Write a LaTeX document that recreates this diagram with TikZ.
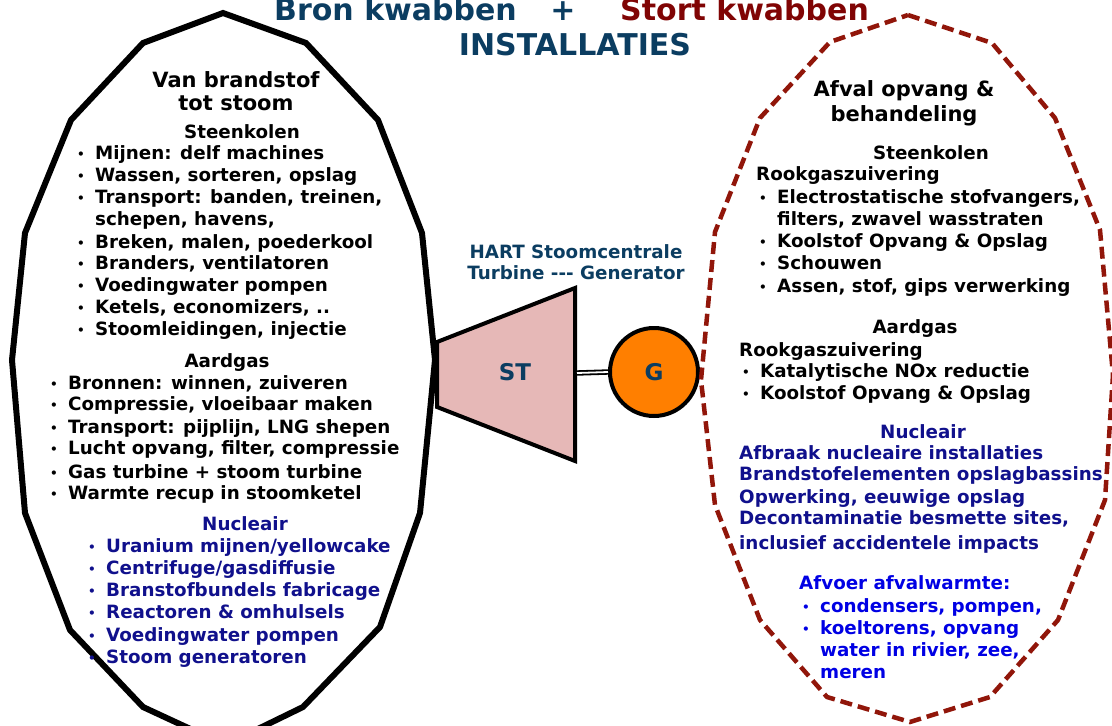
\documentclass[tikz,border=0pt]{standalone}
\usepackage{fontspec}
\setmainfont{DejaVu Sans}

\definecolor{titleblue}{RGB}{11,61,97}
\definecolor{stortred}{RGB}{128,4,4}
\definecolor{lobered}{RGB}{145,22,10}
\definecolor{nucblue}{RGB}{16,16,140}
\definecolor{heatblue}{RGB}{0,0,228}
\definecolor{turbinefill}{RGB}{230,184,183}
\definecolor{genorange}{RGB}{255,127,0}

\begin{document}
\begin{tikzpicture}[
  x=1pt,
  y=-1pt,
  font=\bfseries,
  lobe/.style={draw=black,line width=6pt},
  wastelobe/.style={draw=lobered,line width=4.5pt,dash pattern=on 12pt off 6pt},
  title/.style={font=\fontsize{30}{30}\selectfont\bfseries,anchor=base,inner sep=0pt},
  head/.style={font=\fontsize{21}{23}\selectfont\bfseries,anchor=base,inner sep=0pt},
  sub/.style={font=\fontsize{18.3}{22}\selectfont\bfseries,anchor=base,inner sep=0pt},
  txt/.style={sub,anchor=base west},
  dot/.style={font=\fontsize{12}{12}\selectfont\bfseries,anchor=base west,inner sep=0pt,yshift=0.8pt}
]
\clip (0,0) rectangle (1112,726);

% Title
\node[title,text=titleblue,anchor=base west] (bron) at (274,20) {Bron kwabben};
\node[title,text=titleblue] (plus) at (563,20) {+};
\node[title,text=stortred,anchor=base west] (stort) at (620,20) {Stort kwabben};
\node[title,text=titleblue] (install) at (575,55) {INSTALLATIES};

% Source lobe
\draw[lobe] (223,13) -- (306,43) -- (378,120) -- (422,233) -- (435,360)
  -- (420,513) -- (380,627) -- (303,707) -- (225,745) -- (143,707)
  -- (70,630) -- (25,513) -- (12,360) -- (25,233) -- (71,120)
  -- (143,43) -- cycle;

\node[head] (srchead1) at (236,87) {Van brandstof};
\node[head] (srchead2) at (236,110) {tot stoom};

\node[sub] (srccoal) at (242,138) {Steenkolen};
\foreach \y/\t [count=\i] in {159/{Mijnen: delf machines},
    181/{Wassen, sorteren, opslag},
    203/{Transport: banden, treinen,},
    248/{Breken, malen, poederkool},
    269/{Branders, ventilatoren},
    291/{Voedingwater pompen},
    313/{Ketels, economizers, ..},
    335/{Stoomleidingen, injectie}} {
  \node[dot] (scb\i) at (77,\y) {•};
  \node[txt] (sct\i) at (95,\y) {\t};
}
\node[txt] (sctx) at (95,225) {schepen, havens,};

\node[sub] (srcgas) at (227,367) {Aardgas};
\foreach \y/\t [count=\i] in {389/{Bronnen: winnen, zuiveren},
    410/{Compressie, vloeibaar maken},
    433/{Transport: pijplijn, LNG shepen},
    454/{Lucht opvang, filter, compressie},
    478/{Gas turbine + stoom turbine},
    499/{Warmte recup in stoomketel}} {
  \node[dot] (sgb\i) at (50,\y) {•};
  \node[txt] (sgt\i) at (68,\y) {\t};
}

\node[sub,text=nucblue] (srcnuc) at (245,530) {Nucleair};
\foreach \y/\t [count=\i] in {552/{Uranium mijnen/yellowcake},
    574/{Centrifuge/gasdiffusie},
    596/{Branstofbundels fabricage},
    618/{Reactoren \& omhulsels},
    641/{Voedingwater pompen},
    663/{Stoom generatoren}} {
  \node[dot,text=nucblue] (snb\i) at (88,\y) {•};
  \node[txt,text=nucblue] (snt\i) at (106,\y) {\t};
}

% Turbine and generator
\node[sub,text=titleblue] (hart) at (576,258) {HART Stoomcentrale};
\node[sub,text=titleblue] (turbgen) at (576,279)
  {Turbine \mbox{-}\mbox{-}\mbox{-} Generator};

\draw[line width=4pt,fill=turbinefill,line join=miter]
  (437,342) -- (575,288) -- (575,461) -- (437,407) -- cycle;
\node[font=\fontsize{23}{23}\selectfont\bfseries,text=titleblue] (st) at (515,372) {ST};
\coordinate (stout) at (577,373);

\node[circle,draw=black,line width=4pt,fill=genorange,minimum size=88pt,inner sep=0pt,
  font=\fontsize{23}{23}\selectfont\bfseries,text=titleblue] (gen) at (654,372) {G};
\draw[line width=1.8pt,double=white,double distance=1.8pt] (stout) -- (gen.west);

% Waste lobe
\draw[wastelobe] (908,15) -- (992,43) -- (1055,118) -- (1100,230) -- (1113,375)
  -- (1105,500) -- (1058,620) -- (990,697) -- (910,722) -- (827,697)
  -- (760,620) -- (715,505) -- (701,380) -- (715,232) -- (760,118)
  -- (830,42) -- cycle;

\node[head] (wastehead1) at (904,96) {Afval opvang \&};
\node[head] (wastehead2) at (904,121) {behandeling};

\node[sub] (wcoal) at (931,159) {Steenkolen};
\node[txt] (wcoalrook) at (756,180) {Rookgaszuivering};
\foreach \y/\t [count=\i] in {203/{Electrostatische stofvangers,},
    247/{Koolstof Opvang \& Opslag},
    269/{Schouwen},
    292/{Assen, stof, gips verwerking}} {
  \node[dot] (wcb\i) at (759,\y) {•};
  \node[txt] (wct\i) at (777,\y) {\t};
}
\node[txt] (wctx) at (777,225) {filters, zwavel wasstraten};

\node[sub] (wgas) at (915,333) {Aardgas};
\node[txt] (wgasrook) at (739,356) {Rookgaszuivering};
\foreach \y/\t [count=\i] in {377/{Katalytische NOx reductie},
    399/{Koolstof Opvang \& Opslag}} {
  \node[dot] (wgb\i) at (742,\y) {•};
  \node[txt] (wgt\i) at (760,\y) {\t};
}

\node[sub,text=nucblue] (wnuc) at (923,438) {Nucleair};
\foreach \y/\t [count=\i] in {459/{Afbraak nucleaire installaties},
    480/{Brandstofelementen opslagbassins},
    503/{Opwerking, eeuwige opslag},
    524/{Decontaminatie besmette sites,},
    549/{inclusief accidentele impacts}} {
  \node[txt,text=nucblue] (wnt\i) at (739,\y) {\t};
}

\node[txt,text=heatblue] (heat) at (799,589) {Afvoer afvalwarmte:};
\foreach \y/\t [count=\i] in {612/{condensers, pompen,},
    634/{koeltorens, opvang}} {
  \node[dot,text=heatblue] (whb\i) at (802,\y) {•};
  \node[txt,text=heatblue] (wht\i) at (820,\y) {\t};
}
\node[txt,text=heatblue] (whx1) at (820,656) {water in rivier, zee,};
\node[txt,text=heatblue] (whx2) at (820,678) {meren};

\end{tikzpicture}
\end{document}
